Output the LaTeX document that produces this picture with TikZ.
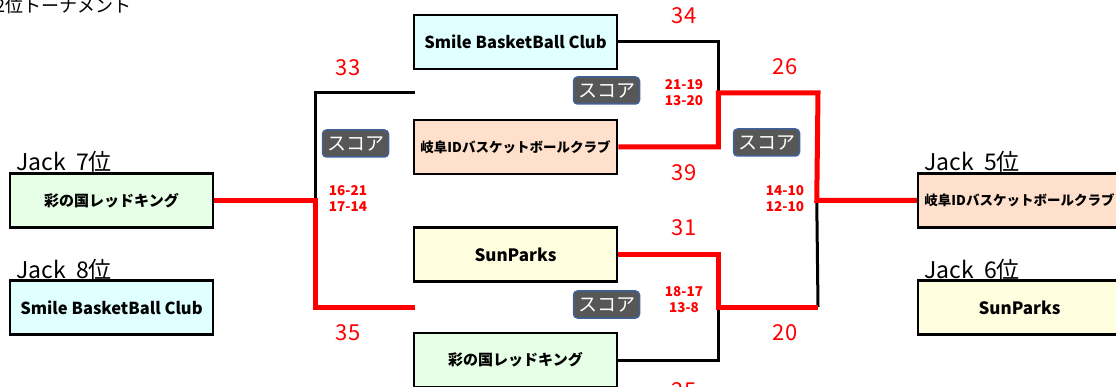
\documentclass[tikz,border=0pt]{standalone}
\usepackage{fontspec}
\setmainfont{Noto Sans CJK JP}
\usepackage{tikz}
\definecolor{tgreen}{HTML}{E6FFE6}
\definecolor{tcyan}{HTML}{E0FFFF}
\definecolor{torange}{HTML}{FFE0CC}
\definecolor{tyellow}{HTML}{FFFFE0}
\definecolor{btngray}{HTML}{575757}
\definecolor{btnblue}{HTML}{41609A}
\tikzstyle{team} = [rectangle, draw=black, line width=2.5pt, minimum width=203pt, minimum height=54pt, inner sep=0pt, font=\fontsize{15}{18}\selectfont\bfseries]
\tikzstyle{team_g} = [team, fill=tgreen]
\tikzstyle{team_c} = [team, fill=tcyan, font=\fontsize{16.5}{18}\selectfont\bfseries]
\tikzstyle{team_o} = [team, fill=torange, font=\fontsize{13.5}{16}\selectfont\bfseries]
\tikzstyle{team_y} = [team, fill=tyellow, font=\fontsize{17}{18}\selectfont\bfseries]
\tikzstyle{rank} = [anchor=base west, inner sep=0pt, font=\fontsize{23}{24}\selectfont]
\tikzstyle{pts} = [red, inner sep=0pt, font=\fontsize{22}{24}\selectfont]
\tikzstyle{sets} = [red, inner sep=0pt, align=center, font=\fontsize{13.5}{16}\selectfont\bfseries]
\tikzstyle{score_btn} = [rectangle, rounded corners=4pt, fill=btngray, draw=btnblue, line width=1.5pt, text=white, minimum width=66pt, minimum height=27pt, inner sep=0pt, font=\fontsize{19}{20}\selectfont]

\begin{document}
\begin{tikzpicture}[x=1pt,y=-1pt,
lose/.style={draw=black, line width=3pt},
win/.style={draw=red, line width=5pt}
]
\useasboundingbox (0,0) rectangle (1116,387);

\node[anchor=base west, inner sep=0pt, font=\fontsize{18}{18}\selectfont] (ttl) at (-5,13) {2位トーナメント};

\node[team_g] (L1) at (111.5,200.5) {彩の国レッドキング};
\node[team_c] (L2) at (111.5,307.5) {Smile BasketBall Club};
\node[rank] (j7) at (16,171) {Jack\ \ 7位};
\node[rank] (j8) at (16,279) {Jack\ \ 8位};

\node[team_c] (M1) at (515.5,42) {Smile BasketBall Club};
\node[team_o] (M2) at (515.5,147) {岐阜IDバスケットボールクラブ};
\node[team_y] (M3) at (515.5,254.5) {SunParks};
\node[team_g] (M4) at (515.5,360) {彩の国レッドキング};

\node[team_o] (R1) at (1019.5,200.5) {岐阜IDバスケットボールクラブ};
\node[team_y] (R2) at (1019.5,307.5) {SunParks};
\node[rank] (j5) at (924,171) {Jack\ \ 5位};
\node[rank] (j6) at (924,279) {Jack\ \ 6位};

\coordinate (la1) at (415,93);
\coordinate (la2) at (415,307);
\path (L1.east) ++(101,0) coordinate (lj);
\path (M2.east) ++(100,0) coordinate (mtj);
\coordinate (ft) at (818,93);
\coordinate (fb) at (818,307);
\path (R1.west) ++(-100,0) coordinate (fj);

\draw[lose] (la1) -| (lj);
\draw[lose] (M1.east) -| (mtj);
\draw[lose] (M4.east) -| (mtj |- fb);
\draw[lose] (fb) -- (fj);
\draw[win] (la2) -| (lj) -- (L1.east);
\draw[win] (M2.east) -- (mtj) |- (ft) -- (fj) -- (R1.west);
\draw[win] (M3.east) -- ++(100,0) |- (fb);

\node[pts] (s33) at (348,68) {33};
\node[pts] (s35) at (348,333) {35};
\node[pts] (s34) at (684,16) {34};
\node[pts] (s39) at (684,173) {39};
\node[pts] (s26) at (785,67) {26};
\node[pts] (s31) at (684,228) {31};
\node[pts] (s20) at (785,333) {20};
\node[pts] (s25) at (684,391) {25};

\node[sets] (g1) at (348,199) {16-21\\17-14};
\node[sets] (g2) at (684,93) {21-19\\13-20};
\node[sets] (g3) at (785,199) {14-10\\12-10};
\node[sets] (g4) at (684,300) {18-17\\13-8};

\node[score_btn] (b1) at (355.5,143.5) {スコア};
\node[score_btn] (b2) at (606.5,90.5) {スコア};
\node[score_btn] (b3) at (766.5,142.5) {スコア};
\node[score_btn] (b4) at (606.5,304.5) {スコア};
\end{tikzpicture}
\end{document}
